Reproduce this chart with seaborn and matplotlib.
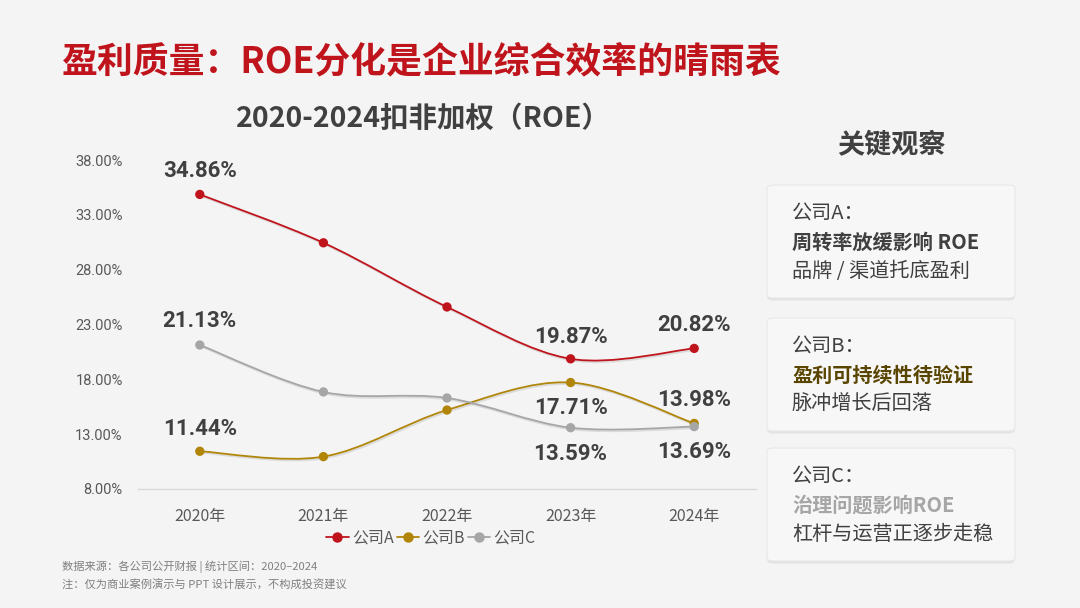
import matplotlib
matplotlib.use("Agg")
import matplotlib.pyplot as plt
import seaborn as sns
import pandas as pd
from matplotlib.path import Path
from matplotlib.patches import PathPatch, FancyBboxPatch
from matplotlib.lines import Line2D
import matplotlib.patheffects as pe

# data
years = ["2020年", "2021年", "2022年", "2023年", "2024年"]
company_a = [34.86, 30.45, 24.6, 19.87, 20.82]
company_b = [11.44, 10.95, 15.2, 17.71, 13.98]
company_c = [21.13, 16.85, 16.3, 13.59, 13.69]
series_names = ["公司A", "公司B", "公司C"]
y_ticks = [8, 13, 18, 23, 28, 33, 38]

sns.set_theme(style="white")
plt.rcParams['font.family'] = ['Noto Sans CJK SC', 'DejaVu Sans']

bg = "#F4F4F4"
colors = ["#C0141C", "#B08508", "#A6A6A6"]
dark = "#404040"

df = pd.DataFrame({"year": years * 3,
                   "roe": company_a + company_b + company_c,
                   "company": [n for n in series_names for _ in years]})
df["x"] = [i for _ in series_names for i in range(len(years))]

fig = plt.figure(figsize=(10.8, 6.08), dpi=100, facecolor=bg)
ax = fig.add_axes([138 / 1080, 1 - 489 / 608, 618 / 1080, 329 / 608])
ax.set_facecolor(bg)


def smooth_path(xs, ys):
    # cubic bezier through the points (catmull-rom style smoothing)
    pts = list(zip(xs, ys))
    verts = [pts[0]]
    codes = [Path.MOVETO]
    n = len(pts)
    for i in range(n - 1):
        p0 = pts[i - 1] if i > 0 else pts[i]
        p1 = pts[i]
        p2 = pts[i + 1]
        p3 = pts[i + 2] if i + 2 < n else pts[i + 1]
        c1 = (p1[0] + (p2[0] - p0[0]) / 6, p1[1] + (p2[1] - p0[1]) / 6)
        c2 = (p2[0] - (p3[0] - p1[0]) / 6, p2[1] - (p3[1] - p1[1]) / 6)
        verts += [c1, c2, p2]
        codes += [Path.CURVE4] * 3
    return Path(verts, codes)


shadow = [pe.SimpleLineShadow(offset=(0.8, -1.2), alpha=0.1, shadow_color="black"), pe.Normal()]
for name, col in zip(series_names, colors):
    sub = df[df.company == name]
    patch = PathPatch(smooth_path(sub.x.tolist(), sub.roe.tolist()), facecolor="none",
                      edgecolor=col, lw=1.3, zorder=2, path_effects=shadow)
    ax.add_patch(patch)

sns.scatterplot(data=df, x="x", y="roe", hue="company", palette=colors, s=45,
                edgecolor="none", legend=False, ax=ax, zorder=3)

# value labels (first and last two points of each series)
label_offsets = {
    "公司A": {0: 17, 3: 16, 4: 17},
    "公司B": {0: 16, 3: -18, 4: 17},
    "公司C": {0: 17, 3: -19, 4: -18},
}
for name in series_names:
    sub = df[df.company == name]
    for idx, dy in label_offsets[name].items():
        v = sub.roe.iloc[idx]
        ax.annotate(f"{v:.2f}%", (idx, v), xytext=(0, dy), textcoords="offset points",
                    ha="center", va="center", fontsize=16, fontweight="bold",
                    color=dark, family=["Roboto", "DejaVu Sans"])

ax.set_xlim(-0.5, 4.5)
ax.set_ylim(8, 38)
ax.set_xticks(range(len(years)))
ax.set_xticklabels(years)
ax.set_yticks(y_ticks)
ax.set_yticklabels([f"{t:.2f}%" for t in y_ticks], family=["Roboto", "Noto Sans CJK SC"])
ax.tick_params(axis="y", length=0, pad=11, labelsize=10.5, labelcolor="#595959")
ax.tick_params(axis="x", length=0, pad=14, labelsize=11.5, labelcolor="#595959")
ax.set_xlabel("")
ax.set_ylabel("")
for s in ["top", "right", "left"]:
    ax.spines[s].set_visible(False)
ax.spines["bottom"].set_color("#D9D9D9")
ax.spines["bottom"].set_linewidth(1)

handles = [Line2D([0], [0], color=c, lw=1.3, marker="o", markersize=6.5) for c in colors]
fig.legend(handles, series_names, loc="center", bbox_to_anchor=(431 / 1080, 1 - 538 / 608),
           ncol=3, frameon=False, fontsize=11.5, handlelength=1.4, handletextpad=0.2,
           columnspacing=0.2, labelcolor="#595959")

# titles
fig.text(62 / 1080, 1 - 62 / 608, "盈利质量：ROE分化是企业综合效率的晴雨表", fontsize=25.8,
         fontweight="bold", color="#C0141C", ha="left", va="center")
fig.text(423 / 1080, 1 - 119 / 608, "2020-2024扣非加权（ROE）", fontsize=20.5,
         fontweight="bold", color=dark, ha="center", va="center")

# footnotes
fig.text(62 / 1080, 1 - 567 / 608, "数据来源：各公司公开财报 | 统计区间：2020–2024",
         fontsize=8.1, color="#808080", ha="left", va="center")
fig.text(62 / 1080, 1 - 585 / 608, "注：仅为商业案例演示与 PPT 设计展示，不构成投资建议",
         fontsize=8.1, color="#808080", ha="left", va="center")

# right panel
fig.text(891 / 1080, 1 - 145 / 608, "关键观察", fontsize=19.5, fontweight="bold",
         color=dark, ha="center", va="center")

box_tops = [185, 318, 448]
box_h = 113
box_lines = [
    ("公司A：", "周转率放缓影响 ROE", "品牌 / 渠道托底盈利"),
    ("公司B：", "盈利可持续性待验证", "脉冲增长后回落"),
    ("公司C：", "治理问题影响ROE", "杠杆与运营正逐步走稳"),
]
highlight_colors = [dark, "#5A4500", "#A6A6A6"]
for top, lines, hc in zip(box_tops, box_lines, highlight_colors):
    for off, a in [(3, 0.03), (2, 0.04)]:
        sh = FancyBboxPatch((767 / 1080, 1 - (top + box_h + off) / 608), 248 / 1080, box_h / 608,
                            boxstyle="round,pad=0,rounding_size=0.006", transform=fig.transFigure,
                            facecolor="black", edgecolor="none", alpha=a)
        fig.patches.append(sh)
    box = FancyBboxPatch((767 / 1080, 1 - (top + box_h) / 608), 248 / 1080, box_h / 608,
                         boxstyle="round,pad=0,rounding_size=0.006", transform=fig.transFigure,
                         facecolor="#F7F7F7", edgecolor="#E8E8E8", lw=0.8)
    fig.patches.append(box)
    fig.text(792 / 1080, 1 - (top + 28) / 608, lines[0], fontsize=14.5, color=dark,
             ha="left", va="center")
    fig.text(792 / 1080, 1 - (top + 57) / 608, lines[1], fontsize=14.5, color=hc,
             fontweight="bold", ha="left", va="center")
    fig.text(792 / 1080, 1 - (top + 86) / 608, lines[2], fontsize=14.5, color=dark,
             ha="left", va="center")

fig.savefig("out.png", dpi=100, facecolor=bg)
